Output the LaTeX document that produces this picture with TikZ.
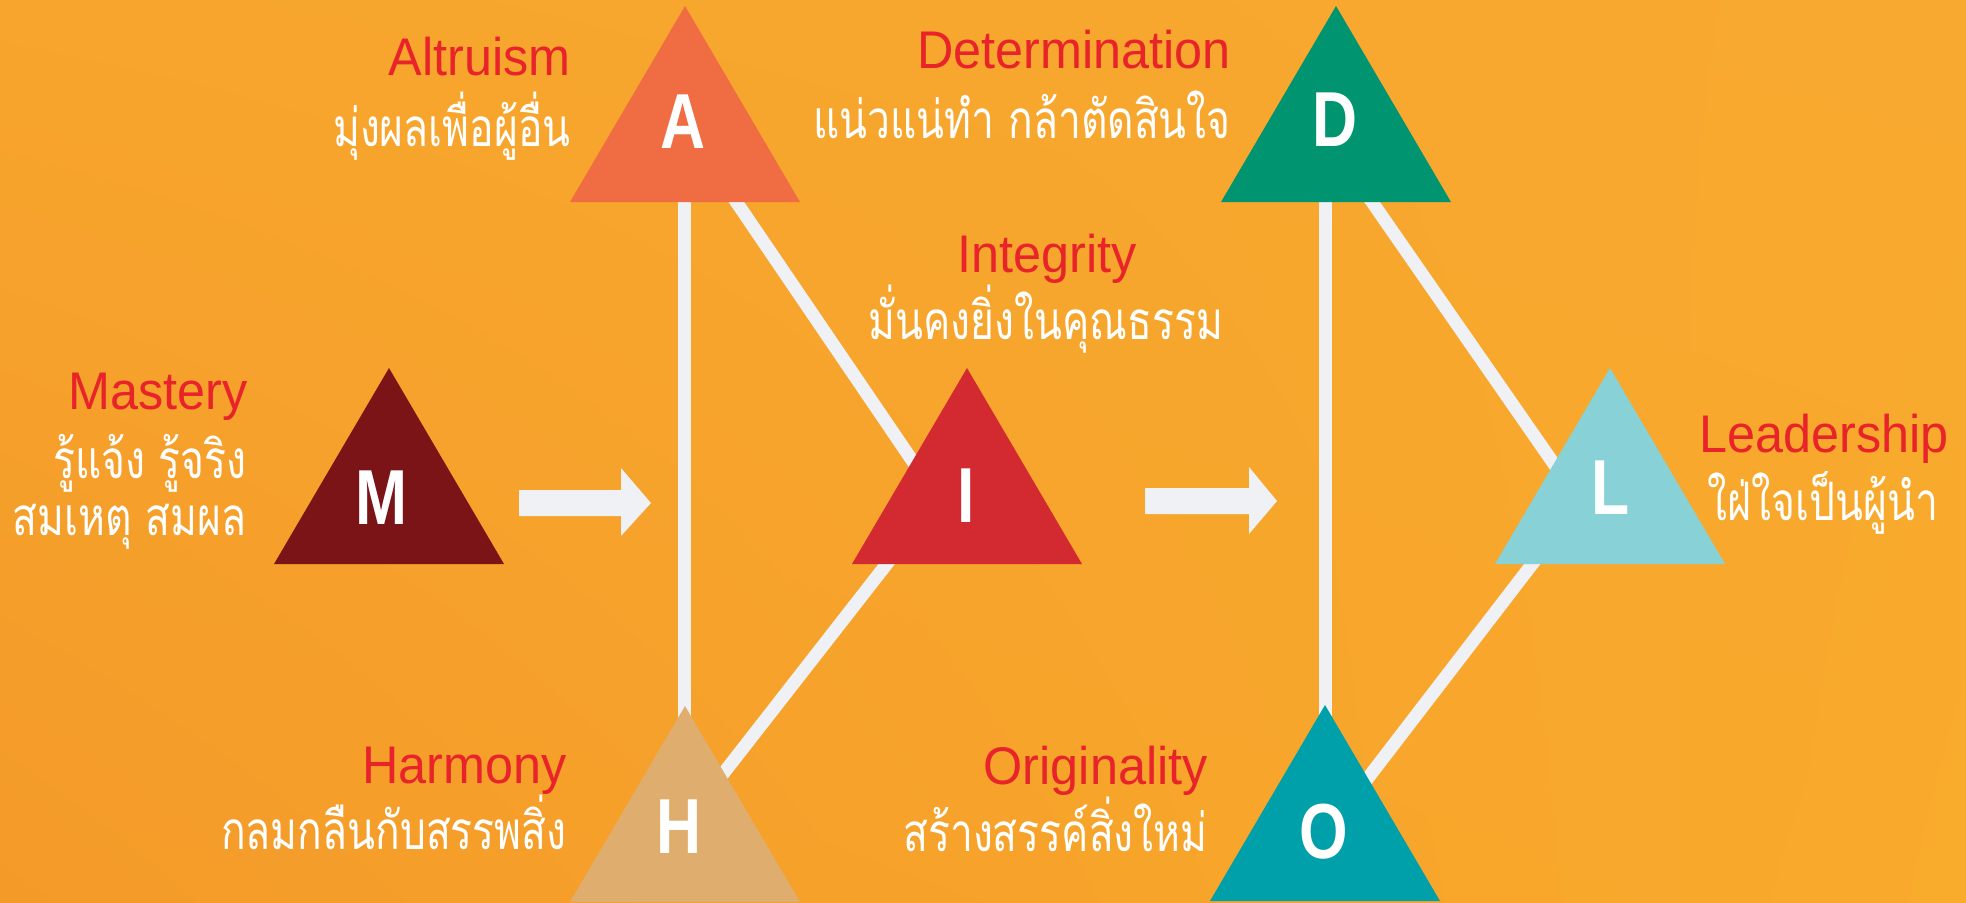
\documentclass[tikz,border=0pt]{standalone}
\usepackage{fontspec}
\usetikzlibrary{shadings}
\setmainfont{Liberation Sans}
\newfontfamily\enfont[FakeStretch=0.95]{Liberation Sans}
\newfontfamily\letfont[FakeStretch=0.8]{Liberation Sans}
\newfontfamily\thaifont[Script=Thai,FakeStretch=0.77]{Loma}
\definecolor{bgUL}{HTML}{F7A52D}
\definecolor{bgUR}{HTML}{F8A92F}
\definecolor{bgLL}{HTML}{F49A29}
\definecolor{bgLR}{HTML}{F9AB2C}
\definecolor{colA}{HTML}{F06C42}
\definecolor{colD}{HTML}{009470}
\definecolor{colM}{HTML}{7A1416}
\definecolor{colI}{HTML}{D32A32}
\definecolor{colL}{HTML}{88D1D6}
\definecolor{colH}{HTML}{DFAE6E}
\definecolor{colO}{HTML}{00A0AA}
\definecolor{labred}{HTML}{E8242A}
\definecolor{linegray}{HTML}{EFF1F4}
\begin{document}
\begin{tikzpicture}[x=0.5pt,y=-0.5pt,
  link/.style={draw=linegray,line width=6.5pt},
  blockarrow/.style={fill=linegray},
  lab/.style={text=labred,font=\enfont\fontsize{26.5}{30}\selectfont,inner sep=0pt},
  thai/.style={text=white,font=\thaifont\fontsize{26.5}{30}\selectfont,inner sep=0pt},
  letter/.style={text=white,font=\letfont\bfseries\fontsize{39}{40}\selectfont,inner sep=0pt,anchor=base}]
\useasboundingbox (0,0) rectangle (1966,902);
\shade[upper left=bgUL,upper right=bgUR,lower left=bgLL,lower right=bgLR] (0,0) rectangle (1966,902);

% apex coordinates
\coordinate (Atop) at (685,6);
\coordinate (Dtop) at (1336,6);
\coordinate (Mtop) at (389,368);
\coordinate (Itop) at (967,368);
\coordinate (Ltop) at (1610,368);
\coordinate (Htop) at (685,706);
\coordinate (Otop) at (1325,705);

% link end points (hidden under triangles)
\coordinate (AvH) at (684,150);
\coordinate (HvA) at (684,800);
\coordinate (AtoI) at (701,150);
\coordinate (ItoA) at (937,497);
\coordinate (HtoI) at (687,820);
\coordinate (ItoH) at (921,520);
\coordinate (DvO) at (1325,150);
\coordinate (OvD) at (1325,800);
\coordinate (DtoL) at (1336,150);
\coordinate (LtoD) at (1572,490);
\coordinate (OtoL) at (1328,830);
\coordinate (LtoO) at (1566,520);

\draw[link] (AvH) -- (HvA);
\draw[link] (AtoI) -- (ItoA);
\draw[link] (HtoI) -- (ItoH);
\draw[link] (DvO) -- (OvD);
\draw[link] (DtoL) -- (LtoD);
\draw[link] (OtoL) -- (LtoO);

% triangles
\fill[colA] (Atop) -- ++(-115,196) -- ++(230,0) -- cycle;
\fill[colD] (Dtop) -- ++(-115,196) -- ++(230,0) -- cycle;
\fill[colM] (Mtop) -- ++(-115,196) -- ++(230,0) -- cycle;
\fill[colI] (Itop) -- ++(-115,196) -- ++(230,0) -- cycle;
\fill[colL] (Ltop) -- ++(-115,196) -- ++(230,0) -- cycle;
\fill[colH] (Htop) -- ++(-115,196) -- ++(230,0) -- cycle;
\fill[colO] (Otop) -- ++(-115,196) -- ++(230,0) -- cycle;

% letters
\node[letter] (A) at (683,148) {A};
\node[letter] (D) at (1335,146) {D};
\node[letter] (M) at (381,524) {M};
\node[letter] (I) at (966,522) {I};
\node[letter] (L) at (1611,514) {L};
\node[letter] (H) at (679,853) {H};
\node[letter] (O) at (1324,858) {O};

% block arrows
\fill[blockarrow] (519,490) -- (621,490) -- (621,468) -- (651,503) -- (621,536) -- (621,516) -- (519,516) -- cycle;
\fill[blockarrow] (1145,488) -- (1249,488) -- (1249,467) -- (1277,501) -- (1249,534) -- (1249,514) -- (1145,514) -- cycle;

% labels
\node[lab,anchor=base east] (altE) at (571,75) {Altruism};
\node[thai,anchor=base east] (altT) at (571,146) {มุ่งผลเพื่อผู้อื่น};
\node[lab,anchor=base east] (detE) at (1231,68) {Determination};
\node[thai,anchor=base east] (detT) at (1231,138) {แน่วแน่ทำ กล้าตัดสินใจ};
\node[lab,anchor=base] (intE) at (1047,272) {Integrity};
\node[thai,anchor=base] (intT) at (1046,339) {มั่นคงยิ่งในคุณธรรม};
\node[lab,anchor=base east] (masE) at (248,409) {Mastery};
\node[thai,anchor=base east] (masT1) at (247,478) {รู้แจ้ง รู้จริง};
\node[thai,anchor=base east] (masT2) at (247,535) {สมเหตุ สมผล};
\node[lab,anchor=base] (leaE) at (1824,452) {Leadership};
\node[thai,anchor=base] (leaT) at (1823,520) {ใฝ่ใจเป็นผู้นำ};
\node[lab,anchor=base east] (harE) at (567,783) {Harmony};
\node[thai,anchor=base east] (harT) at (567,849) {กลมกลืนกับสรรพสิ่ง};
\node[lab,anchor=base east] (oriE) at (1208,784) {Originality};
\node[thai,anchor=base east] (oriT) at (1208,851) {สร้างสรรค์สิ่งใหม่};
\end{tikzpicture}
\end{document}
